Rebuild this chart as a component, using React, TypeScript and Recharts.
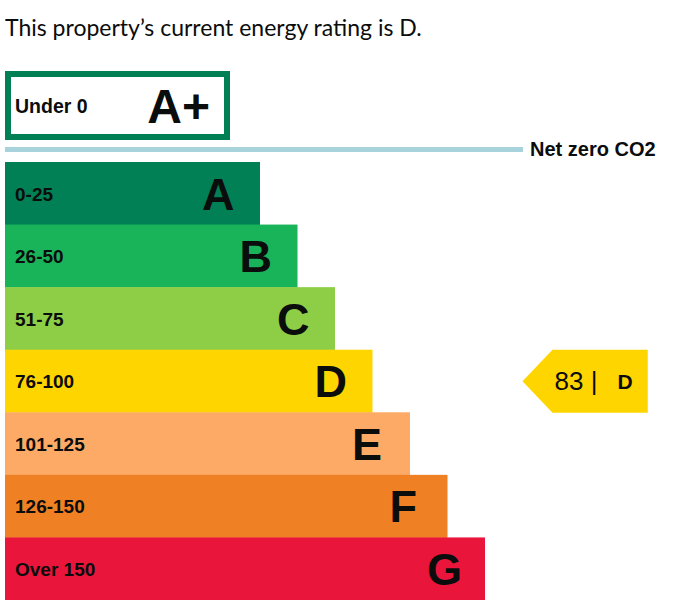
import React from 'react';
import { BarChart, Bar, XAxis, YAxis, Cell } from 'recharts';

const bands = ['A', 'B', 'C', 'D', 'E', 'F', 'G'];
const ranges = ['0-25', '26-50', '51-75', '76-100', '101-125', '126-150', 'Over 150'];
const lengths = [34, 39, 44, 49, 54, 59, 64];
const colors = ['#008054', '#19b459', '#8dce46', '#ffd500', '#fcaa65', '#ef8023', '#e9153b'];

const topBand = 'A+';
const topRange = 'Under 0';
const topLength = 30;

const currentScore = 83;
const currentBand = 'D';
const pointerStart = 69;
const pointerLength = 16.7;
const netZeroLength = 69;

const xMax = 88;
const FONT = '"Liberation Sans", Arial, sans-serif';
const INK = '#0b0c0c';

const data = bands.map((band, i) => ({
  band,
  range: ranges[i],
  length: lengths[i],
  gap: band === currentBand ? pointerStart - lengths[i] : 0,
  pointer: band === currentBand ? pointerLength : 0,
}));

const topData = [{ band: topBand, range: topRange, length: topLength }];

function BandShape(props: any) {
  const { x, y, width, height, fill, payload } = props;
  if (!width || width <= 0) return null;
  const cy = y + height / 2;
  return (
    <g>
      <rect x={x} y={y} width={width} height={height} fill={fill} />
      <text x={x + 10} y={cy + 7} fontFamily={FONT} fontWeight="bold" fontSize={19} fill={INK}>
        {payload.range}
      </text>
      <text x={x + width - 58} y={cy + 16} fontFamily={FONT} fontWeight="bold" fontSize={45} fill={INK}>
        {payload.band}
      </text>
    </g>
  );
}

function TopShape(props: any) {
  const { x, y, width, height, payload } = props;
  if (!width || width <= 0) return null;
  const cy = y + height / 2;
  return (
    <g>
      <rect x={x + 3} y={y + 3} width={width - 6} height={height - 6} fill="#fff" stroke={colors[0]} strokeWidth={6} />
      <text x={x + 10} y={cy + 7} fontFamily={FONT} fontWeight="bold" fontSize={19.5} fill={INK}>
        {payload.range}
      </text>
      <text x={x + width - 20} y={cy + 17} textAnchor="end" fontFamily={FONT} fontWeight="bold" fontSize={48} fill={INK}>
        {payload.band}
      </text>
    </g>
  );
}

function PointerShape(props: any) {
  const { x, y, width, height, fill } = props;
  if (!width || width <= 0) return null;
  const cy = y + height / 2;
  const tip = 30;
  const d = `M${x},${cy} L${x + tip},${y} L${x + width},${y} L${x + width},${y + height} L${x + tip},${y + height} Z`;
  return (
    <g>
      <path d={d} fill={fill} />
      <text x={x + 32} y={cy + 9} fontFamily={FONT} fontSize={26} fill={INK}>
        {currentScore} |
      </text>
      <text x={x + 95} y={cy + 8} fontFamily={FONT} fontWeight="bold" fontSize={21} fill={INK}>
        {currentBand}
      </text>
    </g>
  );
}

export default function App() {
  return (
    <div style={{ position: 'absolute', left: 0, top: 0, width: 673, height: 612, background: '#fff' }}>
      <div
        style={{
          position: 'absolute',
          left: 5,
          top: 16,
          fontFamily: 'Lato, sans-serif',
          fontSize: 23,
          lineHeight: '23px',
          color: INK,
          whiteSpace: 'nowrap',
        }}
      >
        This property’s current energy rating is D.
      </div>

      <div style={{ position: 'absolute', left: 0, top: 71 }}>
        <BarChart
          layout="vertical"
          width={673}
          height={69}
          data={topData}
          margin={{ top: 0, right: 8, left: 5, bottom: 0 }}
          barCategoryGap={0}
        >
          <XAxis type="number" domain={[0, xMax]} hide />
          <YAxis type="category" dataKey="band" hide />
          <Bar dataKey="length" isAnimationActive={false} shape={TopShape} />
        </BarChart>
      </div>

      <div
        style={{
          position: 'absolute',
          left: 5,
          top: 147,
          width: netZeroLength * 7.5,
          height: 5,
          background: '#a9d3dc',
        }}
      />
      <div
        style={{
          position: 'absolute',
          left: 530,
          top: 139,
          fontFamily: FONT,
          fontWeight: 'bold',
          fontSize: 20,
          lineHeight: '20px',
          color: INK,
          whiteSpace: 'nowrap',
        }}
      >
        Net zero CO2
      </div>

      <div style={{ position: 'absolute', left: 0, top: 162 }}>
        <BarChart
          layout="vertical"
          width={673}
          height={438}
          data={data}
          margin={{ top: 0, right: 8, left: 5, bottom: 0 }}
          barCategoryGap={0}
        >
          <XAxis type="number" domain={[0, xMax]} hide />
          <YAxis type="category" dataKey="band" hide />
          <Bar dataKey="length" stackId="s" isAnimationActive={false} shape={BandShape}>
            {data.map((d, i) => (
              <Cell key={d.band} fill={colors[i]} />
            ))}
          </Bar>
          <Bar dataKey="gap" stackId="s" isAnimationActive={false} fill="transparent" />
          <Bar dataKey="pointer" stackId="s" isAnimationActive={false} fill={colors[3]} shape={PointerShape} />
        </BarChart>
      </div>
    </div>
  );
}
